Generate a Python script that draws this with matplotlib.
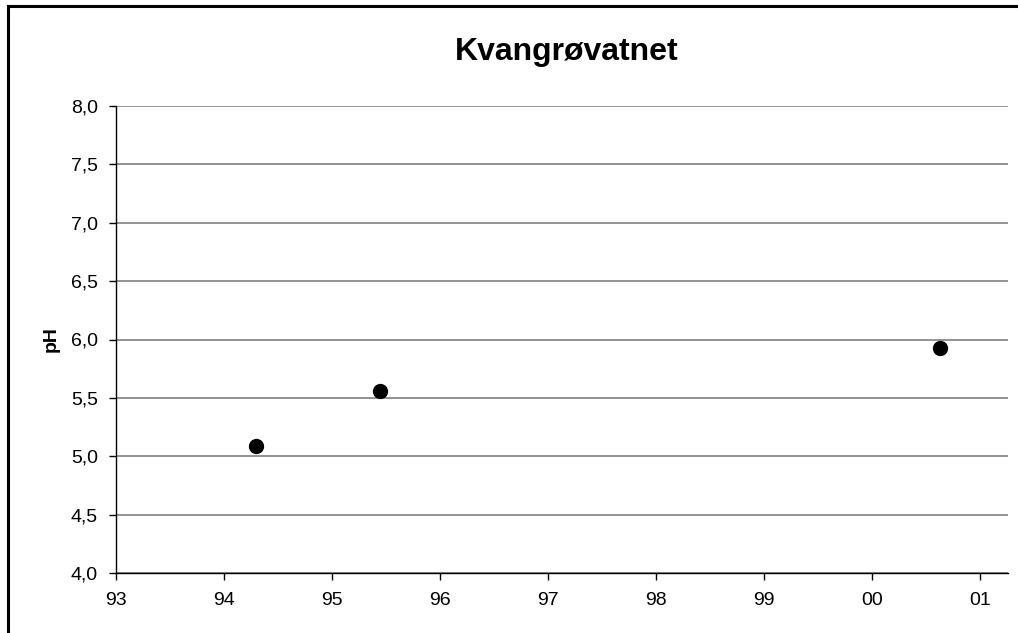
import matplotlib.pyplot as plt
from matplotlib.lines import Line2D

plt.rcParams['font.family'] = ['Liberation Sans', 'DejaVu Sans']

# data (x in years since 1900)
aar = [94.30, 95.44, 100.63]
ph = [5.09, 5.56, 5.93]

x_ticks = [93, 94, 95, 96, 97, 98, 99, 100, 101]
x_labels = ['93', '94', '95', '96', '97', '98', '99', '00', '01']
y_ticks = [4.0, 4.5, 5.0, 5.5, 6.0, 6.5, 7.0, 7.5, 8.0]
y_labels = [f"{v:.1f}".replace('.', ',') for v in y_ticks]

fig = plt.figure(figsize=(10.18, 6.33), dpi=100)
ax = fig.add_axes([116/1018, 1 - 573/633, (1008-116)/1018, (573-106)/633])

ax.plot(aar, ph, 'o', color='black', markersize=10, zorder=3)

ax.set_xlim(93, 93 + (1008-116)/108)
ax.set_ylim(4.0, 8.0)
ax.set_xticks(x_ticks)
ax.set_xticklabels(x_labels)
ax.set_yticks(y_ticks)
ax.set_yticklabels(y_labels)
ax.tick_params(labelsize=14, length=5, width=1, color='black', pad=8)
ax.tick_params(axis='x', pad=9)

ax.yaxis.grid(True, color='#808080', linewidth=1.2)
ax.set_axisbelow(True)
for s in ['top', 'right']:
    ax.spines[s].set_visible(False)
for s in ['left', 'bottom']:
    ax.spines[s].set_color('black')
    ax.spines[s].set_linewidth(1)

ax.set_ylabel('pH', fontsize=14, fontweight='bold', labelpad=8)
fig.text(567/1018, 1 - 52/633, 'Kvangrøvatnet', fontsize=23, fontweight='bold',
         ha='center', va='center')

# frame around the chart area
fig.add_artist(Line2D([8/1018, 8/1018], [0, 1 - 6/633], color='black', linewidth=2.2))
fig.add_artist(Line2D([8/1018, 1], [1 - 6/633, 1 - 6/633], color='black', linewidth=2.2))

fig.savefig('out.png', dpi=100)
